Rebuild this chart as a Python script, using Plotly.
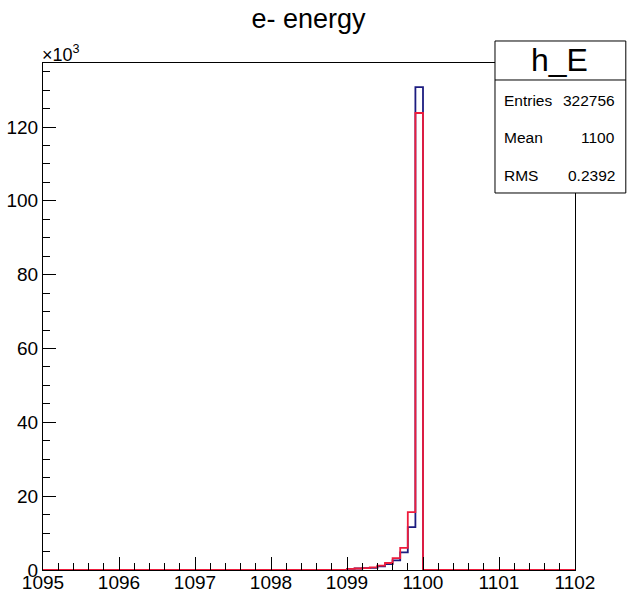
import numpy as np
import plotly.graph_objects as go

# ---- data ----
x_min, x_max, bin_width = 1095.0, 1102.0, 0.1
first_filled_bin = 1099.0
# counts in the filled bins 1099.0 ... 1099.9
counts_blue = [300, 400, 500, 600, 1000, 1600, 2600, 4800, 11600, 130800]
counts_red = [300, 400, 500, 700, 1200, 1900, 3200, 6000, 15700, 123800]
title_text = "e- energy"
stats_name = "h_E"
stats_rows = [("Entries", "322756"), ("Mean", "1100"), ("RMS", "0.2392")]

n_bins = int(round((x_max - x_min) / bin_width))
edges = x_min + bin_width * np.arange(n_bins + 1)
start = int(round((first_filled_bin - x_min) / bin_width))


def full_hist(vals):
    c = np.zeros(n_bins)
    c[start:start + len(vals)] = vals
    return c


def step_xy(c):
    y = np.append(c, c[-1]) / 1000.0
    return edges, y


FONT = "Liberation Sans, Arial, Helvetica, sans-serif"
BLUE = "#1c1c80"
RED = "#ee1c3c"

fig = go.Figure()
for vals, col in [(counts_blue, BLUE), (counts_red, RED)]:
    xs, ys = step_xy(full_hist(vals))
    fig.add_trace(go.Scatter(x=xs, y=ys, mode="lines", line=dict(color=col, width=1.8, shape="hv"),
                             showlegend=False, hoverinfo="skip"))

ymax = max(max(counts_blue), max(counts_red)) * 1.05 / 1000.0

fig.update_layout(
    width=627, height=593,
    margin=dict(l=43, r=52, t=63, b=23, autoexpand=False),
    paper_bgcolor="white", plot_bgcolor="white",
    font=dict(family=FONT, color="black", size=19),
    title=dict(text=title_text, x=0.492, xanchor="center", y=0.969, yanchor="middle",
               font=dict(size=27, family=FONT)),
    showlegend=False,
)
fig.update_xaxes(range=[x_min, x_max], showgrid=False, zeroline=False,
                 showline=True, mirror=True, linecolor="black", linewidth=1,
                 ticks="inside", ticklen=13, tickcolor="black", tickwidth=1,
                 tickmode="linear", tick0=1095, dtick=1, ticklabelstandoff=-5,
                 minor=dict(ticks="inside", ticklen=7, tickcolor="black", dtick=0.2, tick0=1095),
                 tickfont=dict(size=19))
fig.update_yaxes(range=[0, ymax], showgrid=False, zeroline=False,
                 showline=True, mirror=True, linecolor="black", linewidth=1,
                 ticks="inside", ticklen=13, tickcolor="black", tickwidth=1,
                 tickmode="linear", tick0=0, dtick=20,
                 minor=dict(ticks="inside", ticklen=7, tickcolor="black", dtick=5, tick0=0),
                 tickfont=dict(size=19))

# x10^3 multiplier
fig.add_annotation(text="×10<sup>3</sup>", xref="paper", yref="paper", x=0.0, y=1.0,
                   xanchor="left", yanchor="bottom", showarrow=False,
                   font=dict(size=18, family=FONT), xshift=-3, yshift=-4)

# stats box
bx0, bx1, by0, by1, bsep = 0.8496, 1.0955, 0.7436, 1.0434, 0.9665
fig.add_shape(type="rect", xref="paper", yref="paper", x0=bx0, x1=bx1, y0=by0, y1=by1,
              line=dict(color="black", width=1), fillcolor="white", layer="above")
fig.add_shape(type="line", xref="paper", yref="paper", x0=bx0, x1=bx1, y0=bsep, y1=bsep,
              line=dict(color="black", width=1), layer="above")
fig.add_annotation(text=stats_name, xref="paper", yref="paper", x=0.9718,
                   y=(by1 + bsep) / 2, xanchor="center", yanchor="middle", showarrow=False,
                   font=dict(size=32, family=FONT))
row_y = [(570 - 100) / 507, (570 - 137) / 507, (570 - 175) / 507]
for (lab, val), ry in zip(stats_rows, row_y):
    fig.add_annotation(text=lab, xref="paper", yref="paper", x=(502 - 43) / 532, y=ry,
                       xanchor="left", yanchor="middle", showarrow=False, font=dict(size=15.5, family=FONT))
    fig.add_annotation(text=val, xref="paper", yref="paper", x=(617 - 43) / 532, y=ry,
                       xanchor="right", yanchor="middle", showarrow=False, font=dict(size=15.5, family=FONT))

fig.write_html("out.html", config={"displayModeBar": False},
               post_script="document.body.style.margin='0';document.body.style.overflow='hidden';")
